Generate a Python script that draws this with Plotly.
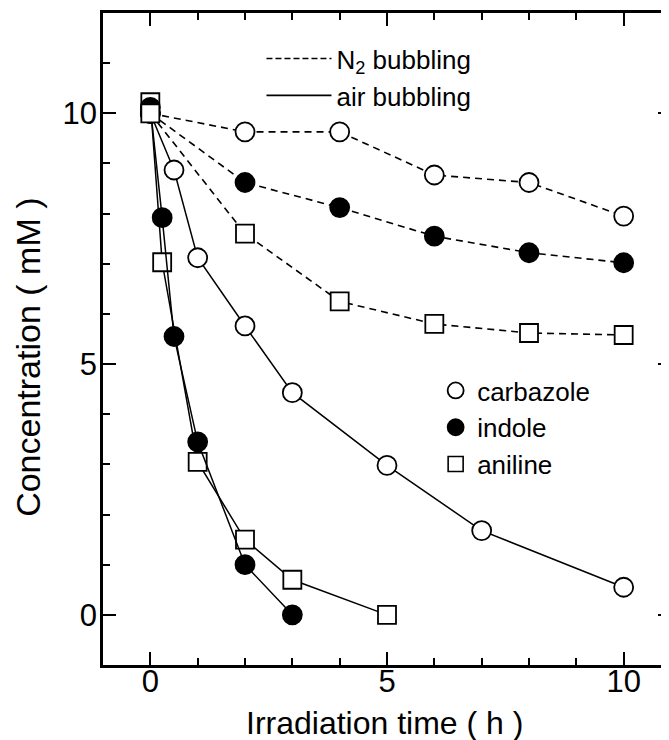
import plotly.graph_objects as go

# ---- data ----
n2_time = [0, 2, 4, 6, 8, 10]
n2_carbazole = [10.0, 9.63, 9.63, 8.77, 8.62, 7.95]
n2_indole = [10.0, 8.62, 8.12, 7.55, 7.22, 7.02]
n2_aniline = [10.0, 7.6, 6.25, 5.8, 5.62, 5.58]

air_carb_time = [0, 0.5, 1, 2, 3, 5, 7, 10]
air_carbazole = [10.0, 8.87, 7.12, 5.76, 4.43, 2.98, 1.68, 0.55]
air_ind_time = [0, 0.25, 0.5, 1, 2, 3]
air_indole = [10.12, 7.92, 5.55, 3.45, 1.0, 0.0]
air_ani_time = [0, 0.25, 1, 2, 3, 5]
air_aniline = [10.22, 7.03, 3.05, 1.5, 0.7, 0.0]

x_tick_vals = [0, 5, 10]
y_tick_vals = [0, 5, 10]

font_family = "Liberation Sans, Arial, sans-serif"
BLACK = "black"

fig = go.Figure()

def marker(symbol, filled):
    size = 19 if symbol == "circle" else 18
    return dict(symbol=symbol, size=size,
                color=BLACK if filled else "white",
                line=dict(color=BLACK, width=1.8))

common = dict(mode="lines+markers", showlegend=False)

# air bubbling (solid)
fig.add_trace(go.Scatter(x=air_ani_time, y=air_aniline, line=dict(color=BLACK, width=1.5),
                         marker=marker("square", False), **common))
fig.add_trace(go.Scatter(x=air_ind_time, y=air_indole, line=dict(color=BLACK, width=1.5),
                         marker=marker("circle", True), **common))
fig.add_trace(go.Scatter(x=air_carb_time, y=air_carbazole, line=dict(color=BLACK, width=1.5),
                         marker=marker("circle", False), **common))
# N2 bubbling (dashed)
dash = "7px,5px"
fig.add_trace(go.Scatter(x=n2_time, y=n2_carbazole, line=dict(color=BLACK, width=1.6, dash=dash),
                         marker=marker("circle", False), **common))
fig.add_trace(go.Scatter(x=n2_time, y=n2_indole, line=dict(color=BLACK, width=1.6, dash=dash),
                         marker=marker("circle", True), **common))
fig.add_trace(go.Scatter(x=n2_time, y=n2_aniline, line=dict(color=BLACK, width=1.6, dash=dash),
                         marker=marker("square", False), **common))

# legend entries (line styles)
fig.add_trace(go.Scatter(x=[None], y=[None], mode="lines", name="N<sub>2</sub> bubbling",
                         line=dict(color=BLACK, width=1.6, dash="6px,3px"), legend="legend"))
fig.add_trace(go.Scatter(x=[None], y=[None], mode="lines", name="air bubbling",
                         line=dict(color=BLACK, width=1.6), legend="legend"))
# legend entries (compounds)
fig.add_trace(go.Scatter(x=[None], y=[None], mode="markers", name="carbazole",
                         marker=dict(symbol="circle", size=17, color="white", line=dict(color=BLACK, width=1.8)),
                         legend="legend2"))
fig.add_trace(go.Scatter(x=[None], y=[None], mode="markers", name="indole",
                         marker=dict(symbol="circle", size=17, color=BLACK, line=dict(color=BLACK, width=1.8)),
                         legend="legend2"))
fig.add_trace(go.Scatter(x=[None], y=[None], mode="markers", name="aniline",
                         marker=dict(symbol="square", size=15, color="white", line=dict(color=BLACK, width=1.6)),
                         legend="legend2"))

axis_common = dict(
    showline=True, linecolor=BLACK, linewidth=2.5, mirror="ticks",
    ticks="inside", tickcolor=BLACK, tickwidth=1.6, ticklen=13,
    showgrid=False, zeroline=False,
    tickfont=dict(family=font_family, size=31, color=BLACK),
    minor=dict(ticks="inside", dtick=1, ticklen=7, tickcolor=BLACK, tickwidth=1.6, showgrid=False),
)

fig.update_layout(
    width=667, height=732,
    margin=dict(l=95, r=1, t=5, b=75),
    paper_bgcolor="white", plot_bgcolor="white",
    font=dict(family=font_family, color=BLACK),
    xaxis=dict(range=[-1, 11], tickvals=x_tick_vals, ticktext=[str(v) for v in x_tick_vals],
               ticklabelstandoff=-13, **axis_common),
    yaxis=dict(range=[-1, 12], tickvals=y_tick_vals, ticktext=[str(v) for v in y_tick_vals],
               ticklabelstandoff=-3, **axis_common),
    legend=dict(x=0.279, y=0.966, xanchor="left", yanchor="top", bgcolor="rgba(0,0,0,0)",
                font=dict(family=font_family, size=26, color=BLACK), itemwidth=65),
    legend2=dict(x=0.583, y=0.457, xanchor="left", yanchor="top", bgcolor="rgba(0,0,0,0)",
                 font=dict(family=font_family, size=26, color=BLACK), itemwidth=33),
    annotations=[
        dict(text="Concentration ( mM )", textangle=-90, xref="paper", yref="paper",
             x=-0.131, y=0.472, xanchor="center", yanchor="middle", showarrow=False,
             font=dict(family=font_family, size=34, color=BLACK)),
        dict(text="Irradiation time ( h )", xref="paper", yref="paper",
             x=0.496, y=-0.089, xanchor="center", yanchor="middle", showarrow=False,
             font=dict(family=font_family, size=32, color=BLACK)),
    ],
)

fig.write_html("out.html")
